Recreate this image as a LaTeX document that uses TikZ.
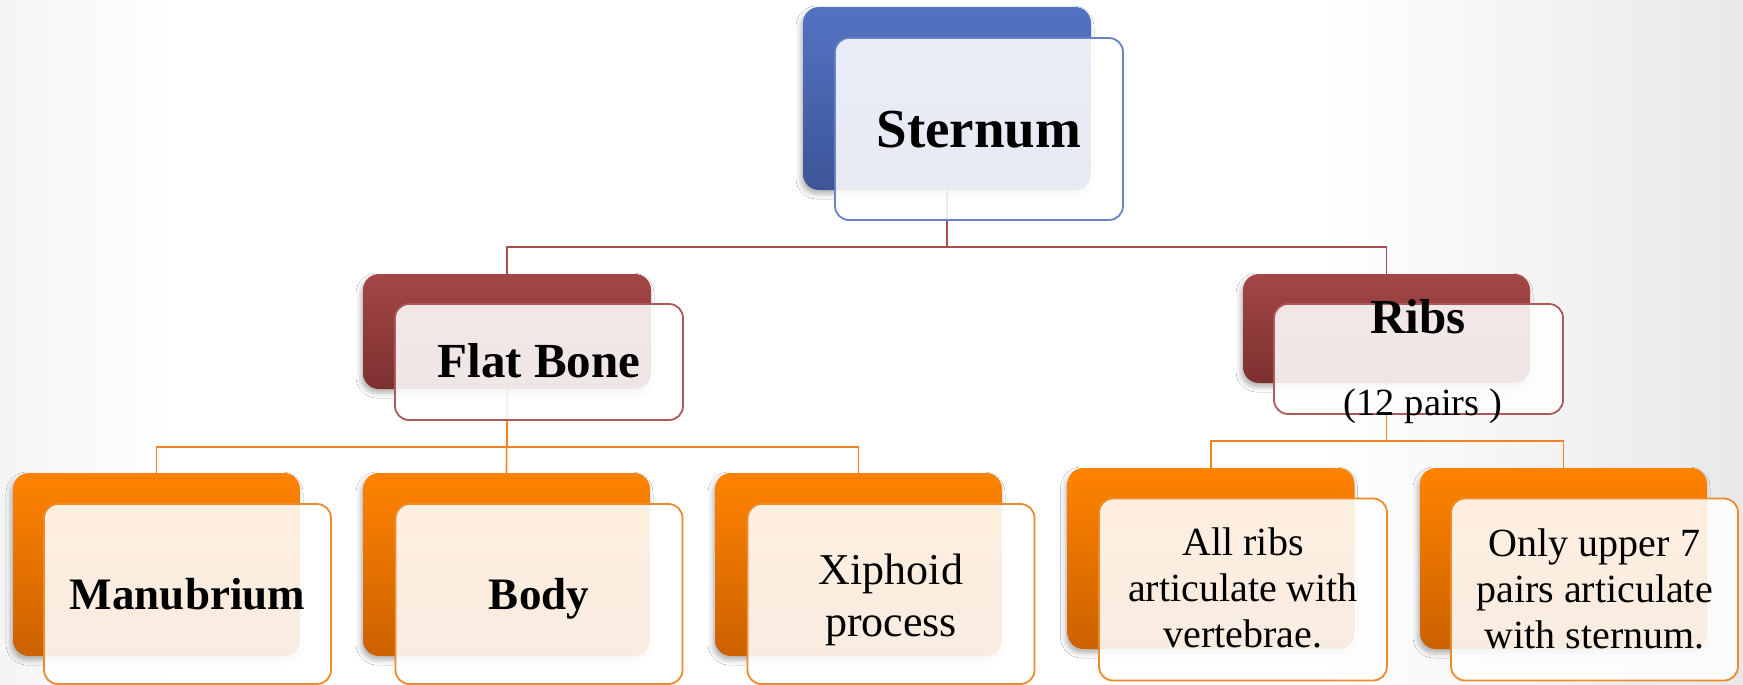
\documentclass[tikz,border=0pt]{standalone}
\usepackage{fontspec}
\setmainfont{Liberation Serif}
\usetikzlibrary{shadows.blur}
\definecolor{blueTop}{HTML}{5373C3}
\definecolor{blueBot}{HTML}{3D5597}
\definecolor{blueLine}{HTML}{6A81C8}
\definecolor{redTop}{HTML}{A44646}
\definecolor{redBot}{HTML}{7C3030}
\definecolor{redLine}{HTML}{AA5A5A}
\definecolor{redConn}{HTML}{A84E4E}
\definecolor{orTop}{HTML}{FF8300}
\definecolor{orBot}{HTML}{CB6100}
\definecolor{orLine}{HTML}{EE8A2A}
\definecolor{orConn}{HTML}{EE8424}
\pgfdeclarelayer{bg}
\pgfsetlayers{bg,main}
\pgfdeclarehorizontalshading{bgshade}{100bp}{color(0bp)=(black!4); color(25bp)=(black!4); color(30bp)=(white); color(63bp)=(white); color(75bp)=(black!9); color(100bp)=(black!9)}
\tikzset{
  backbox/.style={rounded corners=16pt, draw=none, inner sep=0pt,
    blur shadow={shadow xshift=-2pt, shadow yshift=-4pt, shadow opacity=30, shadow blur radius=5pt}},
  bback/.style={backbox, top color=blueTop, bottom color=blueBot},
  rback/.style={backbox, top color=redTop, bottom color=redBot},
  oback/.style={backbox, top color=orTop, bottom color=orBot},
  frontbox/.style={rounded corners=14pt, fill=white, fill opacity=0.88, line width=1.8pt, inner sep=0pt},
  bfront/.style={frontbox, draw=blueLine},
  rfront/.style={frontbox, draw=redLine},
  ofront/.style={frontbox, draw=orLine},
  redconn/.style={draw=redConn, line width=1.6pt},
  orconn/.style={draw=orConn, line width=1.6pt},
  big/.style={anchor=base, font=\bfseries\fontsize{55}{64}\selectfont},
  mid/.style={anchor=base, font=\bfseries\fontsize{49}{58}\selectfont},
  lab/.style={anchor=base, font=\bfseries\fontsize{45}{52}\selectfont},
  plain/.style={align=center, font=\fontsize{40}{46}\selectfont},
}
\begin{document}
\begin{tikzpicture}[x=1pt, y=-1pt]
\useasboundingbox (0,0) rectangle (1743,685);
% back boxes
\node[bback, minimum width=288pt, minimum height=183pt] (sB) at (947,98.5) {};
\node[rback, minimum width=288pt, minimum height=115pt] (fB) at (507,331.5) {};
\node[rback, minimum width=287pt, minimum height=109pt] (rB) at (1386.5,328.5) {};
\node[oback, minimum width=287pt, minimum height=183pt] (mB) at (156.5,564.5) {};
\node[oback, minimum width=287pt, minimum height=183pt] (bB) at (506.5,564.5) {};
\node[oback, minimum width=287pt, minimum height=183pt] (xB) at (858.5,564.5) {};
\node[oback, minimum width=287pt, minimum height=181pt] (aB) at (1211,558.5) {};
\node[oback, minimum width=287pt, minimum height=181pt] (oB) at (1563.5,558.5) {};
% background and connectors
\begin{pgfonlayer}{bg}
\shade[shading=bgshade] (0,0) rectangle (1743,685);
\draw[redconn] (sB.south) -- ++(0,57) -| (fB.north);
\draw[redconn] (sB.south) -- ++(0,57) -| (rB.north);
\draw[orconn] (fB.south) -- ++(0,58) -| (mB.north);
\draw[orconn] (fB.south) -- (bB.north);
\draw[orconn] (fB.south) -- ++(0,58) -| (xB.north);
\draw[orconn] (rB.south) -- ++(0,58) -| (aB.north);
\draw[orconn] (rB.south) -- ++(0,58) -| (oB.north);
\end{pgfonlayer}
% front boxes
\node[bfront, minimum width=288pt, minimum height=182pt] (sF) at (979,129) {};
\node[rfront, minimum width=288pt, minimum height=116pt] (fF) at (539,362) {};
\node[rfront, minimum width=289pt, minimum height=110pt] (rF) at (1418.5,359) {};
\node[ofront, minimum width=287pt, minimum height=180pt] (mF) at (187.5,594) {};
\node[ofront, minimum width=287pt, minimum height=180pt] (bF) at (539,594) {};
\node[ofront, minimum width=287pt, minimum height=180pt] (xF) at (891,594) {};
\node[ofront, minimum width=288pt, minimum height=182pt] (aF) at (1243,589.5) {};
\node[ofront, minimum width=287pt, minimum height=182pt] (oF) at (1594.5,589.5) {};
% texts
\node[big] (sT) at (979,147) {Sternum};
\node[mid] (fT) at (539,377) {Flat Bone};
\node[mid] (rT) at (1418,333) {Ribs};
\node[anchor=base, font=\fontsize{38.5}{44}\selectfont] (rT2) at (1423,415) {(12 pairs )};
\node[lab] (mT) at (187.5,609) {Manubrium};
\node[lab] (bT) at (539,609) {Body};
\node[align=center, font=\fontsize{44}{52}\selectfont] (xT) at (891,600) {Xiphoid\\process};
\node[plain] (aT) at (1243,588) {All ribs\\articulate with\\vertebrae.};
\node[plain] (oT) at (1594.5,589) {Only upper 7\\pairs articulate\\with sternum.};
\end{tikzpicture}
\end{document}
